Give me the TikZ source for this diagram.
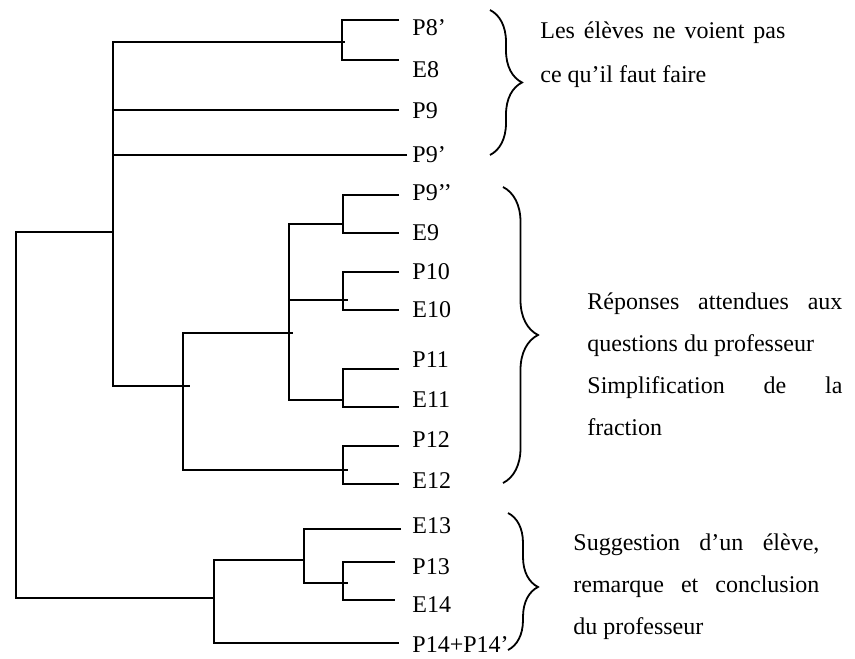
\documentclass[tikz,border=0pt]{standalone}
\usepackage{fontspec}
\setmainfont{Liberation Serif}
\usetikzlibrary{decorations.pathreplacing}

\tikzset{
  link/.style={line width=1pt},
  leaf/.style={anchor=west, inner sep=0pt, font=\fontsize{12}{14}\selectfont},
  gloss/.style={anchor=west, align=left, inner sep=0pt, font=\fontsize{12}{21}\selectfont},
  grp/.style={decorate, decoration={brace, amplitude=#1}, line width=0.9pt},
}

\begin{document}
\begin{tikzpicture}[x=0.5pt, y=-0.5pt]
\useasboundingbox (0,0) rectangle (855,658);
%leaves: end of the line, then the label
\path (399,20) coordinate (t-p8a) (412,28) node[leaf] (p8a) {P8’};
\path (399,60) coordinate (t-e8) (412,70) node[leaf] (e8) {E8};
\path (399,110) coordinate (t-p9) (412,111) node[leaf] (p9) {P9};
\path (407,155) coordinate (t-p9a) (412,155) node[leaf] (p9a) {P9’};
\path (399,195) coordinate (t-p9b) (412,193) node[leaf] (p9b) {P9’’};
\path (399,233) coordinate (t-e9) (412,233) node[leaf] (e9) {E9};
\path (399,272) coordinate (t-p10) (412,272) node[leaf] (p10) {P10};
\path (399,310) coordinate (t-e10) (412,310) node[leaf] (e10) {E10};
\path (399,369) coordinate (t-p11) (412,360) node[leaf] (p11) {P11};
\path (399,407) coordinate (t-e11) (412,400) node[leaf] (e11) {E11};
\path (399,446) coordinate (t-p12) (412,440) node[leaf] (p12) {P12};
\path (399,484) coordinate (t-e12) (412,481) node[leaf] (e12) {E12};
\path (401,529) coordinate (t-e13) (412,526) node[leaf] (e13) {E13};
\path (395,562) coordinate (t-p13) (412,567) node[leaf] (p13) {P13};
\path (395,600) coordinate (t-e14) (412,605) node[leaf] (e14) {E14};
\path (399,643) coordinate (t-p14) (412,645) node[leaf] (p14) {P14+P14’};

%junctions
\coordinate (j-8) at (342,42);
\coordinate (j-a) at (113,232);
\coordinate (j-root) at (16,400);
\coordinate (j-b) at (183,386);
\coordinate (j-c) at (289,333);
\coordinate (j-d1) at (343,224);
\coordinate (j-d2) at (343,300);
\coordinate (j-d3) at (343,400);
\coordinate (j-d4) at (343,470);
\coordinate (j-f) at (214,598);
\coordinate (j-g) at (304,560);
\coordinate (j-h) at (343,583);

%upper cluster
\draw[link] (t-p8a) -| (j-8) |- (t-e8);
\draw[link] (j-8) -| (j-a) |- (j-b);
\draw[link] (t-p9) -- (t-p9 -| j-a);
\draw[link] (t-p9a) -- (t-p9a -| j-a);
\draw[link] (j-c) -| (j-b) |- (j-d4);
\draw[link] (j-d1) -| (j-c) |- (j-d3);
\draw[link] (j-d2) -- (j-d2 -| j-c);
\draw[link] (t-p9b) -| (j-d1) |- (t-e9);
\draw[link] (t-p10) -| (j-d2) |- (t-e10);
\draw[link] (t-p11) -| (j-d3) |- (t-e11);
\draw[link] (t-p12) -| (j-d4) |- (t-e12);
%root
\draw[link] (j-a) -| (j-root) |- (j-f);
%lower cluster
\draw[link] (j-g) -| (j-f) |- (t-p14);
\draw[link] (t-e13) -| (j-g) |- (j-h);
\draw[link] (t-p13) -| (j-h) |- (t-e14);
%small overshoots
\draw[link] (j-8) -- ++(3,0) (j-b) -- ++(7,0) (j-c) -- ++(4,0)
  (j-d2) -- ++(5,0) (j-d4) -- ++(5,0) (j-h) -- ++(5,0);

%braces
\coordinate (b1-top) at (490,10);
\coordinate (b1-bot) at (490,155);
\coordinate (b2-top) at (503,187);
\coordinate (b2-bot) at (503,483);
\coordinate (b3-top) at (508,513);
\coordinate (b3-bot) at (508,650);
\draw[grp=16pt] (b1-top) -- (b1-bot);
\draw[grp=17.5pt] (b2-top) -- (b2-bot);
\draw[grp=15pt, decoration={aspect=0.54}] (b3-top) -- (b3-bot);

%comments on the groups
\node[gloss, font=\fontsize{12}{22}\selectfont] (n-stuck) at (540,55)
  {\makebox[122.5pt][s]{Les élèves ne voient pas}\\ ce qu’il faut faire};
\node[gloss] (n-answers) at (587,364)
  {\makebox[127.5pt][s]{Réponses attendues aux}\\ questions du professeur\\
   \makebox[127.5pt][s]{Simplification de la}\\ fraction};
\node[gloss] (n-suggest) at (573,587)
  {\makebox[123pt][s]{Suggestion d’un élève,}\\ \makebox[123pt][s]{remarque et conclusion}\\ du professeur};
\end{tikzpicture}
\end{document}
